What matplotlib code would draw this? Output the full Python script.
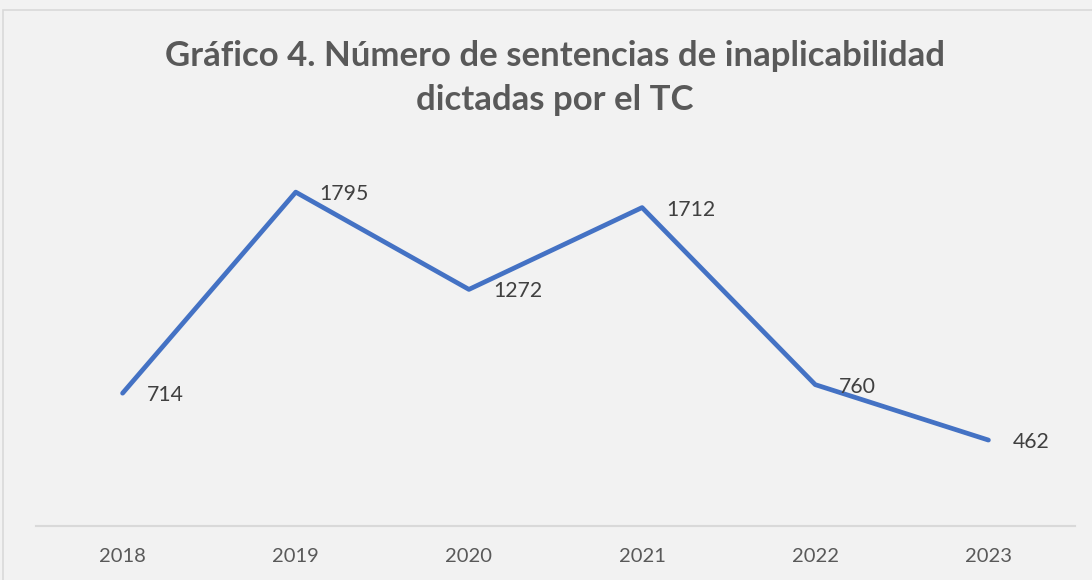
import matplotlib
matplotlib.use("Agg")
import matplotlib.pyplot as plt
from matplotlib.patches import Rectangle

years = ["2018", "2019", "2020", "2021", "2022", "2023"]
values = [714, 1795, 1272, 1712, 760, 462]
title = "Gráfico 4. Número de sentencias de inaplicabilidad\ndictadas por el TC"

W, H = 1092, 580
fig = plt.figure(figsize=(W / 100, H / 100), dpi=100)
fig.patch.set_facecolor("#F2F2F2")
# chart border
fig.add_artist(Rectangle((3 / W, -0.1), 1.2, (H - 10) / H + 0.1, transform=fig.transFigure,
                         facecolor="#F2F2F2", edgecolor="#D9D9D9", linewidth=1.2, zorder=-5))

ax = fig.add_axes([36 / W, (H - 526) / H, (1075 - 36) / W, (526 - 154) / H])
ax.set_zorder(5)
ax.set_facecolor("none")
x = list(range(len(years)))
ax.plot(x, values, color="#4472C4", linewidth=3.4, solid_capstyle="round", solid_joinstyle="round")
ax.set_xlim(-0.5, len(years) - 0.5)
ax.set_ylim(0, 2000)
for s in ["top", "right", "left"]:
    ax.spines[s].set_visible(False)
ax.spines["bottom"].set_color("#D9D9D9")
ax.spines["bottom"].set_linewidth(1.5)
ax.set_yticks([])
ax.set_xticks(x)
ax.set_xticklabels(years, fontsize=14.5, color="#595959", family="Lato")
ax.tick_params(axis="x", length=0, pad=16)

for xi, v in zip(x, values):
    ax.annotate(str(v), (xi, v), xytext=(24, -2), textcoords="offset pixels",
                ha="left", va="center", fontsize=15.3, color="#404040", family="Lato")

fig.text(555 / W, 1 - 78 / H, title, ha="center", va="center", fontsize=25,
         fontweight="bold", color="#595959", family="Lato", linespacing=1.48, zorder=6)

fig.savefig("out.png", dpi=100, facecolor=fig.get_facecolor())
